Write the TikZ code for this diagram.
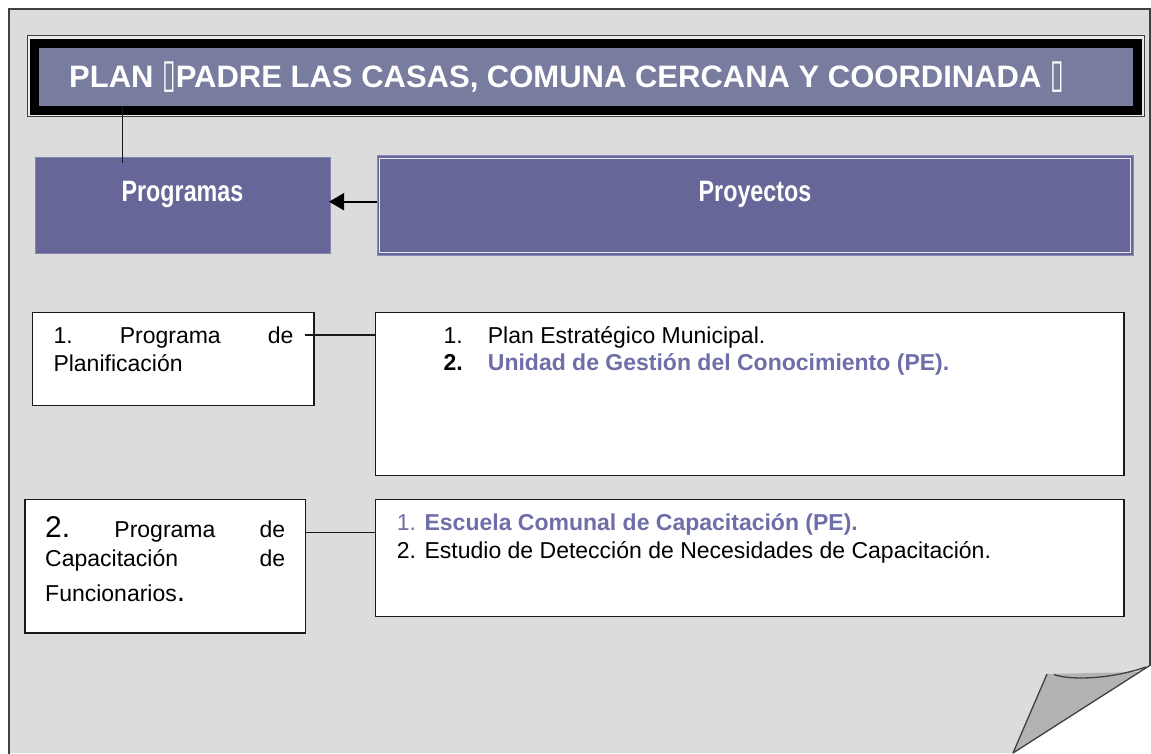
\documentclass[tikz,border=0pt]{standalone}
\usepackage{fontspec}
\usepackage{graphicx}
\setmainfont{Liberation Sans}
\newfontfamily\narrowfont{Liberation Sans}[FakeStretch=0.79]
\newfontfamily\symfont{DejaVu Sans}
\usetikzlibrary{arrows.meta}
\definecolor{pagefill}{HTML}{DCDCDC}
\definecolor{pageline}{HTML}{404040}
\definecolor{titlefill}{HTML}{787C9F}
\definecolor{progfill}{HTML}{666699}
\definecolor{proyborder}{HTML}{8A8ABB}
\definecolor{bluetext}{HTML}{6E6EA8}
\definecolor{flapfill}{HTML}{B3B3B3}
\newcommand{\missingglyph}{\scalebox{0.62}[1]{\symfont\fontsize{40}{40}\selectfont ▯}}
\tikzset{
  whitebox/.style={draw=black!90, line width=1.4pt, fill=white, inner sep=0pt, anchor=north west},
  headbox/.style={fill=progfill, inner sep=0pt, anchor=north west},
  headtext/.style={text=white, inner sep=0pt, anchor=base, font=\narrowfont\bfseries\fontsize{29.5}{30}\selectfont},
  bodytext/.style={inner sep=0pt, anchor=base west, font=\fontsize{23}{28}\selectfont},
  conn/.style={draw=black!90, line width=1.5pt},
}
\begin{document}
\begin{tikzpicture}[x=1pt,y=-1pt]
\useasboundingbox (0,0) rectangle (1151,753);
\fill[white] (0,0) rectangle (1151,753);
% page
\fill[pagefill] (9,753) -- (9,9) -- (1150,9) -- (1150,665) -- (1013,753) -- cycle;
\draw[pageline, line width=1.6pt] (9,753.5) -- (9,9) -- (1150,9) -- (1150,665);
% curl
\fill[flapfill] (1047,674) -- (1013,753) -- (1150,665) -- (1138,672) -- cycle;
\draw[pageline, line width=1.3pt, line join=round] (1047,674) -- (1013,753) -- (1150.5,665);
\draw[pageline, line width=1.3pt] (1054,674.5) .. controls (1068,680) and (1108,680) .. (1146,667);
% title
\draw[pageline, line width=0.8pt, fill=white!92!black] (27,35) rectangle (1144.3,116.7);
\fill[black] (30,39.3) rectangle (1141.7,115);
\node[fill=titlefill, inner sep=0pt, anchor=north west, minimum width=1094.4pt, minimum height=58.3pt] (title) at (38.3,47.7) {};
\node[text=white, inner sep=0pt, anchor=base west, font=\bfseries\fontsize{31}{31}\selectfont] (titletext) at (69,87)
  {PLAN \missingglyph PADRE LAS CASAS, COMUNA CERCANA Y COORDINADA \missingglyph};
% heading boxes
\node[headbox, draw=proyborder!80!progfill, line width=0.6pt, minimum width=295pt, minimum height=95.4pt] (Prog) at (35,157.3) {};
\node[headbox, draw=proyborder, line width=1pt, minimum width=756.5pt, minimum height=100pt] (Proy) at (376.5,155) {};
\draw[white!85!progfill, line width=0.8pt] ([xshift=3.2pt,yshift=-3.3pt]Proy.north west) rectangle ([xshift=-3.2pt,yshift=3.3pt]Proy.south east);
\node[headtext] (progtext) at (182.5,201.7) {Programas};
\node[headtext] (proytext) at (755,201.7) {Proyectos};
% connector title -> Programas
\coordinate (t1) at (122.5,163.3);
\draw[conn] (t1 |- title.south) -- (t1);
% arrow
\coordinate (a1) at (0,201.7);
\draw[black, line width=2pt, -{Triangle[length=15pt,width=17pt]}] (a1 -| Proy.west) -- ([xshift=-1.5pt]a1 -| Prog.east);
% white boxes
\node[whitebox, minimum width=281.6pt, minimum height=93.3pt] (P1) at (31.7,311.7) {};
\node[whitebox, minimum width=748.3pt, minimum height=163.3pt] (R1) at (375,311.7) {};
\node[whitebox, minimum width=280.7pt, minimum height=133.3pt] (P2) at (24.3,499) {};
\node[whitebox, minimum width=748.3pt, minimum height=116.7pt] (R2) at (375,499) {};
% connectors
\coordinate (c1) at (305,335);
\draw[conn] (c1) -- (c1 -| R1.west);
\coordinate (c2) at (0,532.3);
\draw[conn] (c2 -| P2.east) -- (c2 -| R2.west);
% P1 text
\node[bodytext] (p1a) at (53.3,343.3) {\makebox[240pt][s]{1.\hfill Programa\hfill de}};
\node[bodytext] (p1b) at (53.3,371.7) {Planificación};
% R1 text
\node[bodytext] (r1a) at (443.3,343.3) {1.};
\node[bodytext] (r1b) at (487.7,343.3) {Plan Estratégico Municipal.};
\node[bodytext, font=\bfseries\fontsize{23}{28}\selectfont] (r1c) at (443.3,370.7) {2.};
\node[bodytext, text=bluetext, font=\bfseries\fontsize{23}{28}\selectfont] (r1d) at (487.7,370.7) {Unidad de Gestión del Conocimiento (PE).};
% P2 text
\node[bodytext] (p2a) at (45,537.3) {\makebox[240pt][s]{{\fontsize{30}{30}\selectfont 2.}\hfill Programa\hfill de}};
\node[bodytext] (p2b) at (45,566.7) {\makebox[240pt][s]{Capacitación\hfill de}};
\node[bodytext] (p2c) at (45,601.7) {Funcionarios{\fontsize{30}{30}\selectfont .}};
% R2 text
\node[bodytext, text=bluetext] (r2a) at (396.7,530) {1. {\bfseries Escuela Comunal de Capacitación (PE).}};
\node[bodytext] (r2b) at (396.7,558.3) {2. Estudio de Detección de Necesidades de Capacitación.};
\end{tikzpicture}
\end{document}
